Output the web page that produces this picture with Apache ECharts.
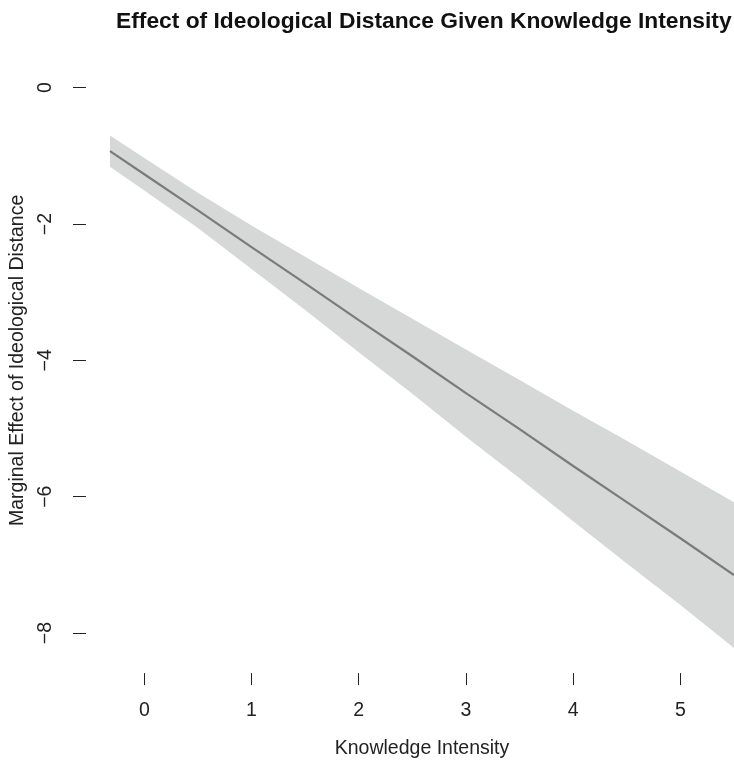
<!DOCTYPE html>
<html>
<head>
<meta charset="utf-8">
<script src="https://cdn.jsdelivr.net/npm/echarts@6/dist/echarts.min.js"></script>
<style>html,body{margin:0;padding:0;background:#fff;}#c{width:734px;height:769px;}</style>
</head>
<body>
<div id="c"></div>
<script>
var xValues   = [-0.32, 0, 0.5, 1, 1.5, 2, 2.5, 3, 3.5, 4, 4.5, 5, 5.5];
var effect    = [-0.93, -1.27, -1.80, -2.34, -2.87, -3.41, -3.94, -4.48, -5.01, -5.55, -6.08, -6.61, -7.15];
var upperCI   = [-0.70, -1.03, -1.54, -2.02, -2.48, -2.94, -3.39, -3.84, -4.29, -4.74, -5.18, -5.63, -6.08];
var lowerCI   = [-1.16, -1.51, -2.06, -2.66, -3.26, -3.88, -4.49, -5.12, -5.73, -6.36, -6.98, -7.59, -8.22];
var xTicks    = [0, 1, 2, 3, 4, 5];
var yTicks    = [0, -2, -4, -6, -8];

var font = 'Liberation Sans, Arial, Helvetica, sans-serif';
var lineData  = xValues.map(function (x, i) { return [x, effect[i]]; });

// confidence band as a polygon: upper edge left->right, lower edge right->left
var bandPoints = [];
xValues.forEach(function (x, i) { bandPoints.push([x, upperCI[i]]); });
for (var j = xValues.length - 1; j >= 0; j--) bandPoints.push([xValues[j], lowerCI[j]]);

var chart = echarts.init(document.getElementById('c'), null, {renderer: 'canvas'});
chart.setOption({
  animation: false,
  backgroundColor: '#ffffff',
  title: {
    text: 'Effect of Ideological Distance Given Knowledge Intensity',
    left: 111, top: 5,
    textStyle: {fontFamily: font, fontWeight: 'bold', fontSize: 22.8, color: '#111'}
  },
  grid: {left: 110, right: 0, top: 53.6, bottom: 101.9, containLabel: false},
  xAxis: {
    type: 'value', min: -0.32, max: 5.5,
    offset: 6,
    name: 'Knowledge Intensity', nameLocation: 'middle', nameGap: 66,
    nameTextStyle: {fontFamily: font, fontSize: 19.5, color: '#222'},
    axisLine: {show: false, onZero: false},
    axisTick: {show: true, length: 12, customValues: xTicks, lineStyle: {color: '#222', width: 1}},
    axisLabel: {customValues: xTicks, margin: 28, fontFamily: font, fontSize: 19.5, color: '#222'},
    splitLine: {show: false}
  },
  yAxis: {
    type: 'value', min: -8.5, max: 0.5,
    offset: 24,
    name: 'Marginal Effect of Ideological Distance', nameLocation: 'middle', nameGap: 54,
    nameTextStyle: {fontFamily: font, fontSize: 19.5, color: '#222'},
    axisLine: {show: false, onZero: false},
    axisTick: {show: true, length: 13, customValues: yTicks, lineStyle: {color: '#222', width: 1}},
    axisLabel: {
      customValues: yTicks, rotate: 90, margin: 30, fontFamily: font, fontSize: 19.5, color: '#222',
      formatter: function (v) { return String(v).replace('-', '\u2212'); }
    },
    splitLine: {show: false}
  },
  series: [
    {
      type: 'custom', silent: true, clip: true,
      data: [0],
      renderItem: function (params, api) {
        var pts = bandPoints.map(function (p) { return api.coord(p); });
        var cs = params.coordSys;
        return {
          type: 'polygon',
          shape: {points: pts},
          clipPath: {type: 'rect', shape: {x: cs.x, y: cs.y, width: cs.width, height: cs.height}},
          style: {fill: '#d6d7d7', stroke: null}
        };
      }
    },
    {type: 'line', data: lineData, symbol: 'none', lineStyle: {color: '#7b7b7b', width: 2.2}, silent: true, z: 3}
  ]
});
</script>
</body>
</html>
